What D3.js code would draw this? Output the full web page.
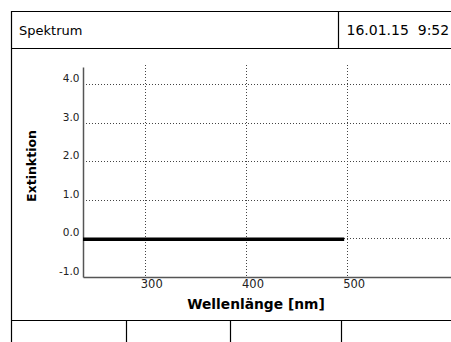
<!DOCTYPE html>
<html>
<head>
<meta charset="utf-8">
<script src="https://cdn.jsdelivr.net/npm/d3@7"></script>
<style>
  body { margin: 0; background: #fff; }
  svg { display: block; font-family: "DejaVu Sans", Verdana, sans-serif; }
</style>
</head>
<body>
<div class="chart"></div>
<script>
// spectrum data (flat line just under 0)
const wavelengths = [239, 300, 350, 400, 450, 497];
const extinction = [-0.02, -0.02, -0.02, -0.02, -0.02, -0.02];

const xTicks = [300, 400, 500];
const yTicks = [-1, 0, 1, 2, 3, 4];
const gridY = [0, 1, 2, 3, 4];

const title = "Spektrum";
const dateText = "16.01.15\u00a0\u00a09:52";
const xLabel = "Wellenlänge [nm]";
const yLabel = "Extinktion";

const W = 451, H = 342;

const svg = d3.select(".chart")
    .append("svg")
    .attr("width", W)
    .attr("height", H);

// frame of the instrument screen
const frame = svg.append("g")
    .attr("stroke", "#000")
    .attr("stroke-width", 1.2)
    .attr("fill", "none");

frame.append("path").attr("d", "M11.5,350 V11.5 H460");
frame.append("line").attr("x1", 11).attr("x2", 460).attr("y1", 48.5).attr("y2", 48.5);
frame.append("line").attr("x1", 338.5).attr("x2", 338.5).attr("y1", 11).attr("y2", 48.5);
frame.append("line").attr("x1", 11).attr("x2", 460).attr("y1", 320.5).attr("y2", 320.5);
[126.5, 230.5, 341.5].forEach(x => {
    frame.append("line").attr("x1", x).attr("x2", x).attr("y1", 320.5).attr("y2", 350);
});

svg.append("text")
    .attr("x", 19).attr("y", 34.5)
    .attr("font-size", 13)
    .text(title);

svg.append("text")
    .attr("x", 346.5).attr("y", 35)
    .attr("font-size", 14)
    .text(dateText);

// scales
const xScale = d3.scaleLinear()
    .domain([239, 602])
    .range([83, 450.5]);

const yScale = d3.scaleLinear()
    .domain([-1, 4.45])
    .range([277, 67]);

// grid
const grid = svg.append("g")
    .attr("stroke", "#444")
    .attr("stroke-width", 1)
    .attr("stroke-dasharray", "1,2");

grid.selectAll(".hgrid")
    .data(gridY)
    .join("line")
    .attr("class", "hgrid")
    .attr("x1", 86)
    .attr("x2", W)
    .attr("y1", d => Math.round(yScale(d)) + 0.5)
    .attr("y2", d => Math.round(yScale(d)) + 0.5);

grid.selectAll(".vgrid")
    .data(xTicks)
    .join("line")
    .attr("class", "vgrid")
    .attr("x1", d => Math.round(xScale(d)) + 0.5)
    .attr("x2", d => Math.round(xScale(d)) + 0.5)
    .attr("y1", 65)
    .attr("y2", 276);

// axes
const xAxis = d3.axisBottom(xScale)
    .tickValues(xTicks)
    .tickSize(0)
    .tickFormat(d3.format("d"));

const xAxisGroup = svg.append("g")
    .attr("class", "axis x-axis")
    .attr("transform", "translate(0," + 277 + ")")
    .call(xAxis);

xAxisGroup.select(".domain").attr("stroke", "#555").attr("stroke-width", 1.5);
xAxisGroup.selectAll("text")
    .attr("font-family", "DejaVu Sans, Verdana, sans-serif")
    .attr("font-size", 11.5)
    .attr("fill", "#222")
    .attr("text-anchor", "start")
    .attr("dx", -4.5)
    .attr("y", 3);

const yAxis = d3.axisLeft(yScale)
    .tickValues(yTicks)
    .tickSize(0)
    .tickFormat(d => d.toFixed(1)); // plain hyphen like the device

const yAxisGroup = svg.append("g")
    .attr("class", "axis y-axis")
    .attr("transform", "translate(83,0)")
    .call(yAxis);

yAxisGroup.select(".domain").attr("stroke", "#555").attr("stroke-width", 1.5);
yAxisGroup.selectAll("text")
    .attr("font-family", "DejaVu Sans, Verdana, sans-serif")
    .attr("font-size", 10.5)
    .attr("fill", "#222")
    .attr("x", -3.5)
    .attr("dy", "-0.25em");

// axis titles
svg.append("text")
    .attr("x", 256).attr("y", 309)
    .attr("text-anchor", "middle")
    .attr("font-size", 13.8)
    .attr("font-weight", "bold")
    .text(xLabel);

svg.append("text")
    .attr("transform", "translate(35.5,166) rotate(-90)")
    .attr("text-anchor", "middle")
    .attr("font-size", 12.5)
    .attr("font-weight", "bold")
    .text(yLabel);

// spectrum line
const line = d3.line()
    .x((d, i) => xScale(wavelengths[i]))
    .y(d => yScale(d));

svg.append("path")
    .datum(extinction)
    .attr("fill", "none")
    .attr("stroke", "#000")
    .attr("stroke-width", 3.5)
    .attr("d", line);
</script>
</body>
</html>
